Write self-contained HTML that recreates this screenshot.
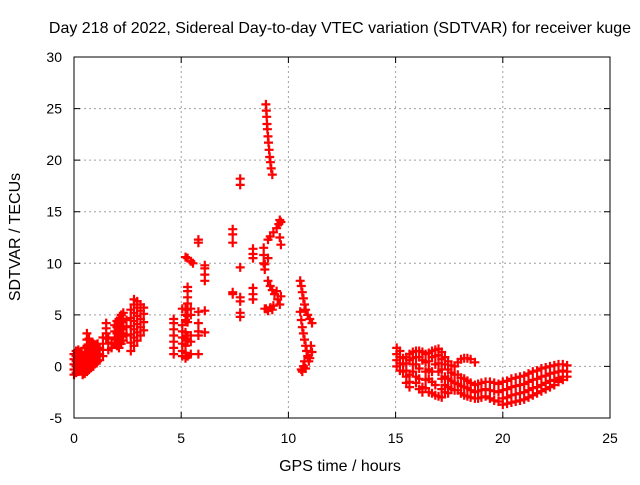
<!DOCTYPE html>
<html><head><meta charset="utf-8"><style>
body{margin:0;background:#fff;}
svg text{font-family:"Liberation Sans",sans-serif;font-size:14px;fill:#000;}
svg text.big{font-size:16px;}
</style></head><body>
<svg id="chart" width="640" height="480" xmlns="http://www.w3.org/2000/svg">
<rect width="640" height="480" fill="#fff"/>
<text class="big" x="340" y="33" text-anchor="middle">Day 218 of 2022, Sidereal Day-to-day VTEC variation (SDTVAR) for receiver kuge</text>
<g id="grid"></g>
<g id="axes"></g>
<g id="marks"></g>
<rect x="74" y="57" width="536" height="361" fill="none" stroke="#000" stroke-width="1"/>
<text class="big" x="340" y="471" text-anchor="middle">GPS time / hours</text>
<text class="big" x="0" y="0" text-anchor="middle" transform="translate(20,237) rotate(-90)">SDTVAR / TECUs</text>
</svg>
<script>
const xTicks=[0,5,10,15,20,25];
const yTicks=[-5,0,5,10,15,20,25,30];
const sampleHours=[0,0.1,0.2,0.3,0.4,0.5,0.6,0.7,0.8,0.9,1.0,1.1,1.2,1.35,1.5,1.6,1.75,
1.9,2.0,2.1,2.2,2.3,2.45,2.65,2.8,2.95,3.1,3.25,4.65,5.05,5.2,5.3,5.45,5.55,5.8,6.1,7.4,7.75,8.35,
8.95,8.97,8.99,9.0,9.02,9.05,9.07,9.1,9.13,9.16,9.2,9.25,
8.85,8.9,9.05,9.15,9.25,9.3,9.35,9.45,9.5,9.55,9.6,9.65,
10.55,10.6,10.65,10.7,10.75,10.8,10.85,10.9,10.95,11.0,11.05,11.1,
15.05,15.2,15.35,15.5,15.65,15.8,15.95,16.1,16.25,16.4,16.55,16.7,16.85,17.0,17.15,17.3,17.45,17.6,17.75,17.9,18.05,18.2,18.35,18.5,18.7,18.85,19.0,19.2,19.4,19.6,19.8,20.0,20.2,20.4,20.6,20.8,21.0,21.2,21.4,21.6,21.8,22.0,22.2,22.4,22.6,22.8,23.0];
const sdtvarByHour=[
[-0.8,-0.3,0.2,0.7,1.2],[-0.6,0,0.5,1,1.5],[-0.5,0,0.5,1,1.6],[-0.3,0.3,0.8,1.4],[-0.8,-0.2,0.4,1],
[-0.7,0,0.6,1.2,1.8],[-0.5,0.2,0.8,1.4,2,2.6,3.2],[-0.3,0.3,0.9,1.5,2.1,2.7],[-0.1,0.5,1.1,1.7,2.3],
[0,0.6,1.2,1.8,2.2],[0.3,0.9,1.5,2.1],[0.5,1.1,1.7,2.2],[0.6,1.2,1.8],[1,1.6,2.2,2.8],[2.7,3.2,3.7,4.2],
[1.6,2.2,2.8],[1.8,2.3],
[2.2,2.8,3.4,4],[2,2.6,3.2,3.8,4.4],[1.8,2.5,3.2,3.9,4.6],[2.2,2.9,3.6,4.3,5],[2.5,3.2,3.9,4.6,5.2],[3,3.8,4.5],
[1.5,2.3,3.1,3.9,4.7,5.5],[2,2.8,3.6,4.4,5.2,6,6.5],[2.5,3.3,4.1,4.9,5.7,6.3],[3,3.8,4.6,5.4,6],[3.5,4.3,5.1,5.7],
[1.2,1.8,2.4,3,3.6,4.2,4.6],
[1,1.5,2.2,2.8,3.4,4,5.6],[0.8,1.3,2,2.7,3.3,4.5,5,5.6,10.6],[1,2.5,3,4.3,4.9,5.5,6.1,6.7,7.3,7.7,10.5],
[1.2,2.4,3,5,5.6,10.2],[10],[1.2,3,3.4,4.2,5.3,12,12.3],[3.3,5.4,8.3,8.9,9.5,9.8],
[7,7.2,12,12.8,13.3],[4.8,5.2,6.3,6.7,9.6,17.6,18.2],[6.5,7,7.6,10.5,10.9,11.4],
[25.4,5.6],[24.8],[24.2],[23.5],[23],[22.3,5.4],[21.7],[21],[20.3],[19.8,5.7],[19.2],[18.6,5.5],
[10,10.8,11.5],[9.4,9.9,5.6],[8.3,12.3,10.5],[7.8,12.6],[7.4,5.5],[13,5.9],[7],[13.4,7.3],[6.5],[13.8],[6,14.2,12.5],[6.8,11.8,14],
[8.3,5.3],[7.8,4.5,-0.3],[7.2,3.8,-0.5],[6.6,3.2,0],[6,2.6,0.5],[5.5,2,-0.2],[1.5],[5,1],[0.5],[4.6,0.8],[2],[4.2,1.4],
[1.8,1.2,0.6,0],[1.5,0.9,0.3,-0.4],[0.8,0.2,-0.5],[0.9,0.3,-0.4,-1,-1.6],[1.2,0.6,-0.8,-1.5,-2],[1.4,0.8,0.2,-0.5],
[1.5,0.9,0.2,-1,-1.6],[1.5,0.9,-0.2,-1.2,-2.2],[1.4,0.6,-2,-2.5],[1.2,0.4,-0.5,-1.3,-2.1],[1.3,0.5,-0.3,-1.2,-2.5],
[1.5,0.9,-0.5,-1.5,-2.6],[1.6,1,0.2,-1.8,-2.8],[1.7,1.1,0.3,-0.5,-2.9],[1.4,0.7,-0.3,-1.2,-2.2,-3],[0.9,0.2,-1,-1.8,-2.5],
[0.5,-0.3,-1.2,-2,-2.6],[0.1,-0.6,-1.4,-2.2],[0,-0.8,-1.6,-2.3],[0.4,-0.8,-1.7,-2.3],[0.7,-1.1,-1.9,-2.6],[0.8,-1.2,-2,-2.8],
[0.8,-1.4,-2.1,-2.9],[0.7,-1.6,-2.3,-3],[0.4,-1.8,-2.5,-3.1],[-1.7,-2.4,-3.1],[-1.6,-2.3,-3],[-1.5,-2.2,-2.9],[-1.5,-2.3,-3.1],
[-1.6,-2.4,-3.3],[-1.7,-2.5,-3.4],[-1.5,-2.3,-3.1,-3.7],[-1.4,-2.2,-3,-3.6],[-1.2,-2,-2.8,-3.5],[-1.1,-1.9,-2.7,-3.4],
[-1,-1.8,-2.6,-3.3],[-0.9,-1.7,-2.5,-3.2],[-0.7,-1.5,-2.3,-3],[-0.5,-1.3,-2.1,-2.8],[-0.4,-1.2,-2,-2.6],[-0.2,-1,-1.8,-2.4],
[-0.1,-0.9,-1.6,-2.2],[0,-0.7,-1.4,-2],[0.1,-0.6,-1.3,-1.8],[0.2,-0.5,-1.1,-1.5],[0.2,-0.4,-1,-1.3],[0.1,-0.5,-1]];

const NS="http://www.w3.org/2000/svg";
const X0=74,X1=610,Y0=418,Y1=57;
function xs(h){return X0+(h-0)/(25-0)*(X1-X0);}
function ys(v){return Y0-(v+5)/(35)*(Y0-Y1);}
function mk(tag,attrs,parent){const e=document.createElementNS(NS,tag);for(const k in attrs)e.setAttribute(k,attrs[k]);parent.appendChild(e);return e;}
const grid=document.getElementById('grid'),axes=document.getElementById('axes'),marks=document.getElementById('marks');
xTicks.forEach(t=>{
  const x=xs(t);
  if(t>0&&t<25){const g=mk('line',{x1:x,x2:x,y1:Y0,y2:Y1,stroke:'#a0a0a0','stroke-dasharray':'2,3'},grid);
  
  }
  const tk=mk('path',{d:`M${x},${Y0}v-6M${x},${Y1}v6`,stroke:'#000'},axes);
  
  
  const lb=mk('text',{x:x,y:443,'text-anchor':'middle'},axes);lb.textContent=t;
  
  
});
yTicks.forEach(t=>{
  const y=ys(t);
  if(t>-5&&t<30){const g=mk('line',{x1:X0,x2:X1,y1:y,y2:y,stroke:'#a0a0a0','stroke-dasharray':'2,3'},grid);
  
  }
  const tk=mk('path',{d:`M${X0},${y}h6M${X1},${y}h-6`,stroke:'#000'},axes);
  
  
  const lb=mk('text',{x:62,y:y+5,'text-anchor':'end'},axes);lb.textContent=t;
  
  
});
let d='';
sampleHours.forEach((h,i)=>{
  sdtvarByHour[i].forEach(v=>{
    const x=xs(h),y=ys(v);
    d+=`M${(x-4.5).toFixed(1)},${y.toFixed(1)}h9M${x.toFixed(1)},${(y-4.5).toFixed(1)}v9`;
  });
});
const p=mk('path',{d:d,stroke:'#ff0000','stroke-width':'2.2',fill:'none'},marks);


</script>
</body></html>
